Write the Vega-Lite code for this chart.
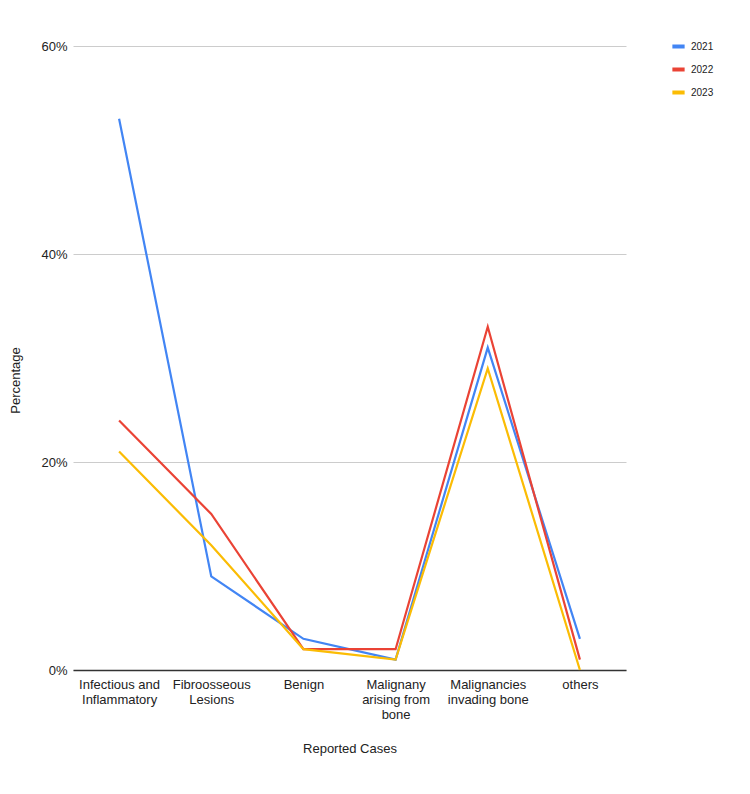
{
  "$schema": "https://vega.github.io/schema/vega-lite/v6.json",
  "autosize": {"type": "none"},
  "padding": {"left": 73, "top": 46, "right": 124, "bottom": 124},
  "width": 553,
  "height": 624,
  "background": "white",
  "config": {
    "font": "Liberation Sans",
    "view": {"stroke": null}
  },
  "data": {
    "values": [
      {"cat": "Infectious and Inflammatory", "year": "2021", "pct": 0.53},
      {"cat": "Fibroosseous Lesions", "year": "2021", "pct": 0.09},
      {"cat": "Benign", "year": "2021", "pct": 0.03},
      {"cat": "Malignany arising from bone", "year": "2021", "pct": 0.01},
      {"cat": "Malignancies invading bone", "year": "2021", "pct": 0.31},
      {"cat": "others", "year": "2021", "pct": 0.03},
      {"cat": "Infectious and Inflammatory", "year": "2022", "pct": 0.24},
      {"cat": "Fibroosseous Lesions", "year": "2022", "pct": 0.15},
      {"cat": "Benign", "year": "2022", "pct": 0.02},
      {"cat": "Malignany arising from bone", "year": "2022", "pct": 0.02},
      {"cat": "Malignancies invading bone", "year": "2022", "pct": 0.33},
      {"cat": "others", "year": "2022", "pct": 0.01},
      {"cat": "Infectious and Inflammatory", "year": "2023", "pct": 0.21},
      {"cat": "Fibroosseous Lesions", "year": "2023", "pct": 0.12},
      {"cat": "Benign", "year": "2023", "pct": 0.02},
      {"cat": "Malignany arising from bone", "year": "2023", "pct": 0.01},
      {"cat": "Malignancies invading bone", "year": "2023", "pct": 0.29},
      {"cat": "others", "year": "2023", "pct": 0.0}
    ]
  },
  "mark": {"type": "line", "strokeWidth": 2.2},
  "encoding": {
    "x": {
      "field": "cat",
      "type": "nominal",
      "sort": null,
      "scale": {"type": "point", "padding": 0.5},
      "axis": {
        "title": "Reported Cases",
        "titleFontSize": 13,
        "titleFontWeight": "normal",
        "titleColor": "#222",
        "titleY": 78,
        "titleBaseline": "middle",
        "labelAngle": 0,
        "labelFontSize": 13,
        "labelColor": "#222",
        "labelPadding": 8,
        "labelLineHeight": 15,
        "ticks": false,
        "grid": false,
        "domainColor": "#333",
        "domainWidth": 1.5,
        "labelExpr": "datum.value == 'Infectious and Inflammatory' ? ['Infectious and', 'Inflammatory'] : datum.value == 'Fibroosseous Lesions' ? ['Fibroosseous', 'Lesions'] : datum.value == 'Malignany arising from bone' ? ['Malignany', 'arising from', 'bone'] : datum.value == 'Malignancies invading bone' ? ['Malignancies', 'invading bone'] : datum.value"
      }
    },
    "y": {
      "field": "pct",
      "type": "quantitative",
      "scale": {"domain": [0, 0.6], "nice": false},
      "axis": {
        "title": "Percentage",
        "titleFontSize": 13,
        "titleFontWeight": "normal",
        "titleColor": "#222",
        "titleX": -58,
        "titleY": 334,
        "titleAngle": -90,
        "titleAlign": "center",
        "titleBaseline": "middle",
        "values": [0, 0.2, 0.4, 0.6],
        "format": ".0%",
        "labelFontSize": 13,
        "labelColor": "#222",
        "labelPadding": 6,
        "ticks": false,
        "domain": false,
        "gridColor": "#cccccc",
        "gridWidth": 1
      }
    },
    "color": {
      "field": "year",
      "type": "nominal",
      "scale": {"domain": ["2021", "2022", "2023"], "range": ["#4285F4", "#EA4335", "#FBBC04"]},
      "legend": {
        "title": null,
        "orient": "none",
        "legendX": 597,
        "legendY": -8,
        "symbolType": "stroke",
        "symbolStrokeWidth": 4,
        "symbolSize": 150,
        "labelFontSize": 10,
        "labelColor": "#222",
        "labelOffset": 4,
        "rowPadding": 6
      }
    }
  }
}
